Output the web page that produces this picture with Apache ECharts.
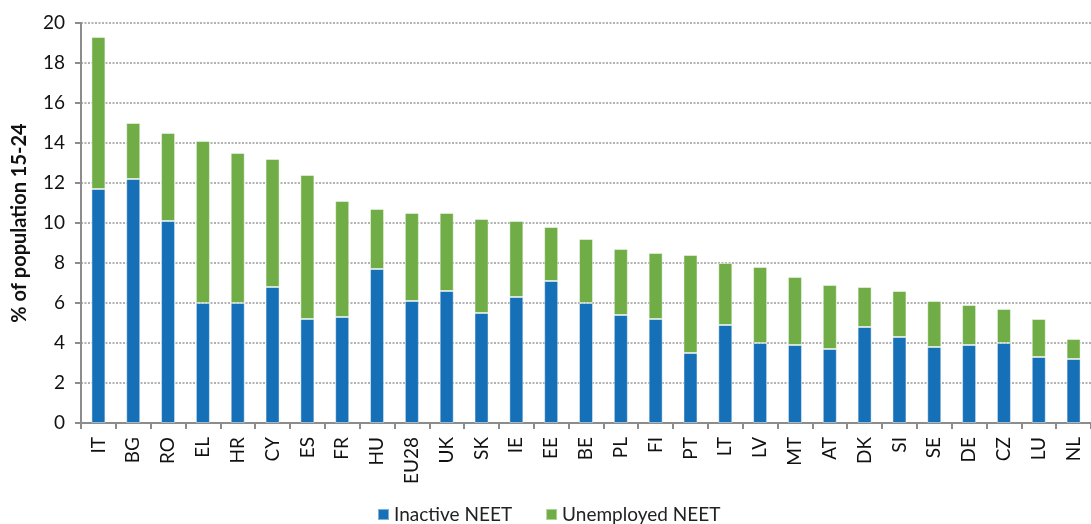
<!DOCTYPE html>
<html>
<head>
<meta charset="utf-8">
<script src="https://cdn.jsdelivr.net/npm/echarts@6/dist/echarts.min.js"></script>
<style>
html,body{margin:0;padding:0;background:#fff;}
#chart{width:1091px;height:524px;}
</style>
</head>
<body>
<div id="chart"></div>
<script>
const categories = ['IT','BG','RO','EL','HR','CY','ES','FR','HU','EU28','UK','SK','IE','EE','BE','PL','FI','PT','LT','LV','MT','AT','DK','SI','SE','DE','CZ','LU','NL'];
const inactiveNEET = [11.7,12.2,10.1,6.0,6.0,6.8,5.2,5.3,7.7,6.1,6.6,5.5,6.3,7.1,6.0,5.4,5.2,3.5,4.9,4.0,3.9,3.7,4.8,4.3,3.8,3.9,4.0,3.3,3.2];
const totalNEET = [19.3,15.0,14.5,14.1,13.5,13.2,12.4,11.1,10.7,10.5,10.5,10.2,10.1,9.8,9.2,8.7,8.5,8.4,8.0,7.8,7.3,6.9,6.8,6.6,6.1,5.9,5.7,5.2,4.2];
const unemployedNEET = totalNEET.map((t, i) => Math.round((t - inactiveNEET[i]) * 10) / 10);
const yTicks = [0,2,4,6,8,10,12,14,16,18,20];

const FONT = 'Lato';
const chart = echarts.init(document.getElementById('chart'));
chart.setOption({
  animation: false,
  textStyle: { fontFamily: FONT },
  grid: { left: 81, top: 23, width: 1013, height: 400, containLabel: false },
  legend: {
    data: ['Inactive NEET', 'Unemployed NEET'],
    left: 372, top: 500,
    itemWidth: 11, itemHeight: 11, itemGap: 33,
    icon: 'rect',
    textStyle: { fontFamily: FONT, fontSize: 19, color: '#222' }
  },
  xAxis: {
    type: 'category',
    data: categories,
    axisLine: { lineStyle: { color: '#8c8c8c', width: 2 } },
    axisTick: { show: true, length: 6, lineStyle: { color: '#8c8c8c', width: 2 } },
    axisLabel: { rotate: 90, fontSize: 19, color: '#111', margin: 14, fontFamily: FONT, interval: 0 }
  },
  yAxis: {
    type: 'value',
    min: yTicks[0], max: yTicks[yTicks.length - 1], interval: 2,
    name: '% of population 15-24',
    nameLocation: 'middle',
    nameGap: 51,
    nameRotate: 90,
    nameTextStyle: { fontSize: 20, fontWeight: 'bold', color: '#111', fontFamily: FONT },
    axisLine: { show: true, lineStyle: { color: '#8c8c8c', width: 2 } },
    axisTick: { show: true, length: 6, lineStyle: { color: '#8c8c8c', width: 2 } },
    axisLabel: { fontSize: 19, color: '#111', margin: 16, fontFamily: FONT },
    splitLine: { show: true, lineStyle: { color: '#999', width: 1.5, type: [2, 1.5] } }
  },
  series: [
    {
      name: 'Inactive NEET', type: 'bar', stack: 'neet', barWidth: 14,
      data: inactiveNEET,
      itemStyle: { color: '#1670b8', borderColor: 'rgba(255,255,255,0.45)', borderWidth: 1 }
    },
    {
      name: 'Unemployed NEET', type: 'bar', stack: 'neet', barWidth: 14,
      data: unemployedNEET,
      itemStyle: { color: '#70ad46', borderColor: 'rgba(255,255,255,0.45)', borderWidth: 1 }
    }
  ]
});
</script>
</body>
</html>
